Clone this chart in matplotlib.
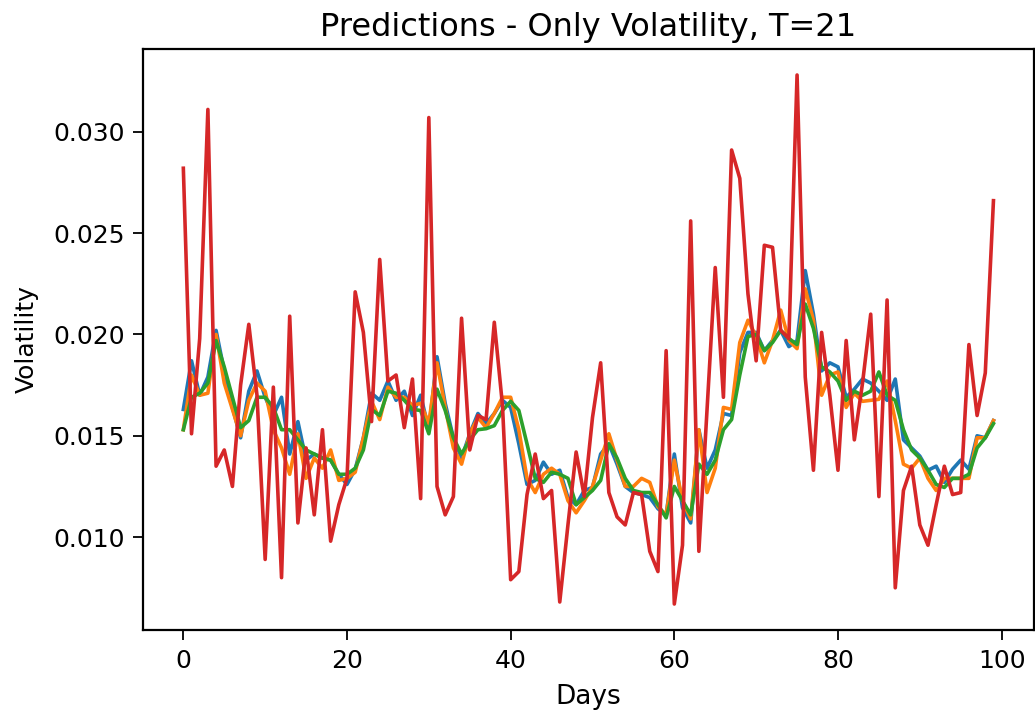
import numpy as np
import matplotlib
matplotlib.use("Agg")
import matplotlib.pyplot as plt

# volatility values, in units of 1e-3
blue = [16.3, 18.7, 17.0, 17.9, 20.2, 18.2, 16.4, 14.9, 17.2, 18.2,
        16.9, 16.0, 16.9, 14.1, 15.7, 13.8, 14.1, 13.9, 13.8, 13.1,
        12.6, 13.35, 14.9, 17.1, 16.75, 17.7, 16.75, 17.2, 16.0, 17.0,
        15.3, 18.9, 16.6, 14.9, 13.9, 15.1, 16.1, 15.6, 16.1, 16.75,
        16.4, 14.6, 12.6, 12.8, 13.7, 13.1, 13.3, 11.95, 11.6, 12.3,
        12.45, 14.1, 14.6, 13.6, 12.5, 12.2, 12.1, 11.95, 11.4, 11.1,
        14.1, 11.45, 10.7, 15.3, 13.4, 14.3, 16.1, 16.0, 19.1, 20.1,
        20.1, 19.2, 19.7, 20.2, 19.4, 19.7, 23.15, 21.0, 18.2, 18.6,
        18.4, 16.9, 17.3, 17.8, 17.6, 17.2, 16.75, 17.8, 14.8, 14.4,
        14.0, 13.3, 13.5, 12.7, 13.35, 13.8, 13.35, 15.0, 14.9, 15.75]

orange = [15.3, 18.0, 17.0, 17.1, 20.0, 17.6, 16.3, 15.0, 16.75, 17.6,
          17.2, 15.3, 14.4, 13.1, 15.1, 12.9, 13.9, 13.4, 14.3, 12.8,
          12.9, 13.2, 14.9, 16.7, 15.8, 17.4, 16.9, 16.9, 16.5, 16.6,
          15.6, 18.6, 16.4, 14.4, 13.6, 15.1, 15.9, 15.4, 16.1, 16.9,
          16.9, 15.3, 12.9, 12.2, 13.1, 13.4, 13.1, 11.8, 11.2, 11.8,
          12.5, 13.8, 15.1, 13.8, 12.5, 12.5, 12.9, 12.7, 11.5, 11.1,
          13.8, 11.8, 10.9, 15.3, 12.2, 13.4, 16.4, 16.3, 19.6, 20.7,
          19.9, 18.6, 19.7, 21.2, 19.7, 19.3, 22.25, 20.7, 17.0, 18.0,
          18.15, 16.4, 17.1, 16.7, 16.75, 16.8, 17.7, 15.75, 13.6, 13.4,
          13.9, 12.9, 12.3, 12.9, 12.9, 12.9, 12.9, 14.9, 14.9, 15.75]

green = [15.3, 16.9, 17.1, 17.6, 19.7, 18.4, 16.9, 15.4, 15.75, 16.9,
         16.9, 16.4, 15.3, 15.3, 14.8, 14.3, 14.1, 13.9, 13.8, 13.1,
         13.1, 13.4, 14.3, 16.3, 16.0, 17.2, 17.1, 16.75, 16.3, 16.25,
         15.1, 17.3, 16.25, 14.9, 14.1, 14.8, 15.3, 15.35, 15.5, 16.25,
         16.7, 16.25, 14.6, 12.9, 12.7, 13.2, 13.1, 12.9, 11.6, 11.95,
         12.3, 12.8, 14.6, 13.9, 12.9, 12.3, 12.2, 12.2, 11.6, 10.95,
         12.5, 11.8, 11.1, 13.6, 13.1, 13.8, 15.3, 15.8, 18.0, 19.9,
         20.0, 19.2, 19.6, 20.2, 19.8, 19.5, 21.5, 20.3, 18.4, 18.15,
         17.7, 16.75, 17.2, 17.0, 17.2, 18.15, 17.0, 16.75, 15.3, 14.3,
         13.9, 13.3, 12.6, 12.45, 12.9, 12.9, 13.1, 14.4, 14.9, 15.6]

red = [28.2, 15.1, 19.8, 31.1, 13.5, 14.3, 12.5, 17.5, 20.5, 17.0,
       8.9, 17.4, 8.0, 20.9, 10.7, 14.4, 11.1, 15.3, 9.8, 11.6,
       12.9, 22.1, 20.1, 15.7, 23.7, 17.7, 18.0, 15.4, 17.8, 11.9,
       30.7, 12.5, 11.1, 12.0, 20.8, 14.3, 16.0, 15.8, 20.6, 16.5,
       7.9, 8.3, 12.1, 14.1, 11.9, 12.3, 6.8, 10.6, 14.2, 12.0,
       15.9, 18.6, 12.2, 11.0, 10.6, 12.2, 12.1, 9.3, 8.3, 19.2,
       6.7, 9.6, 25.6, 9.3, 16.3, 23.3, 16.9, 29.1, 27.7, 22.0,
       18.7, 24.4, 24.3, 20.2, 19.8, 32.8, 17.9, 13.3, 20.1, 17.0,
       13.3, 19.7, 14.8, 17.6, 21.0, 12.0, 21.7, 7.5, 12.3, 13.5,
       10.6, 9.6, 11.6, 13.5, 12.1, 12.2, 19.5, 16.0, 18.1, 26.6]

days = np.arange(len(red))

fig = plt.figure(figsize=(10.35, 7.14), dpi=100)
ax = fig.add_axes([0.138, 0.117, 0.861, 0.815])

for series, col in [(blue, "C0"), (orange, "C1"), (green, "C2"), (red, "C3")]:
    ax.plot(days, np.array(series) / 1000, color=col, lw=2.6)

ax.set_title("Predictions - Only Volatility, T=21", fontsize=23, pad=9)
ax.set_xlabel("Days", fontsize=19, labelpad=8)
ax.set_ylabel("Volatility", fontsize=18, labelpad=10)
ax.set_xticks([0, 20, 40, 60, 80, 100])
ax.set_yticks([0.010, 0.015, 0.020, 0.025, 0.030])
ax.tick_params(labelsize=18, length=7, width=1.3, pad=6)
for s in ax.spines.values():
    s.set_linewidth(1.6)

fig.savefig("out.png", dpi=100)
